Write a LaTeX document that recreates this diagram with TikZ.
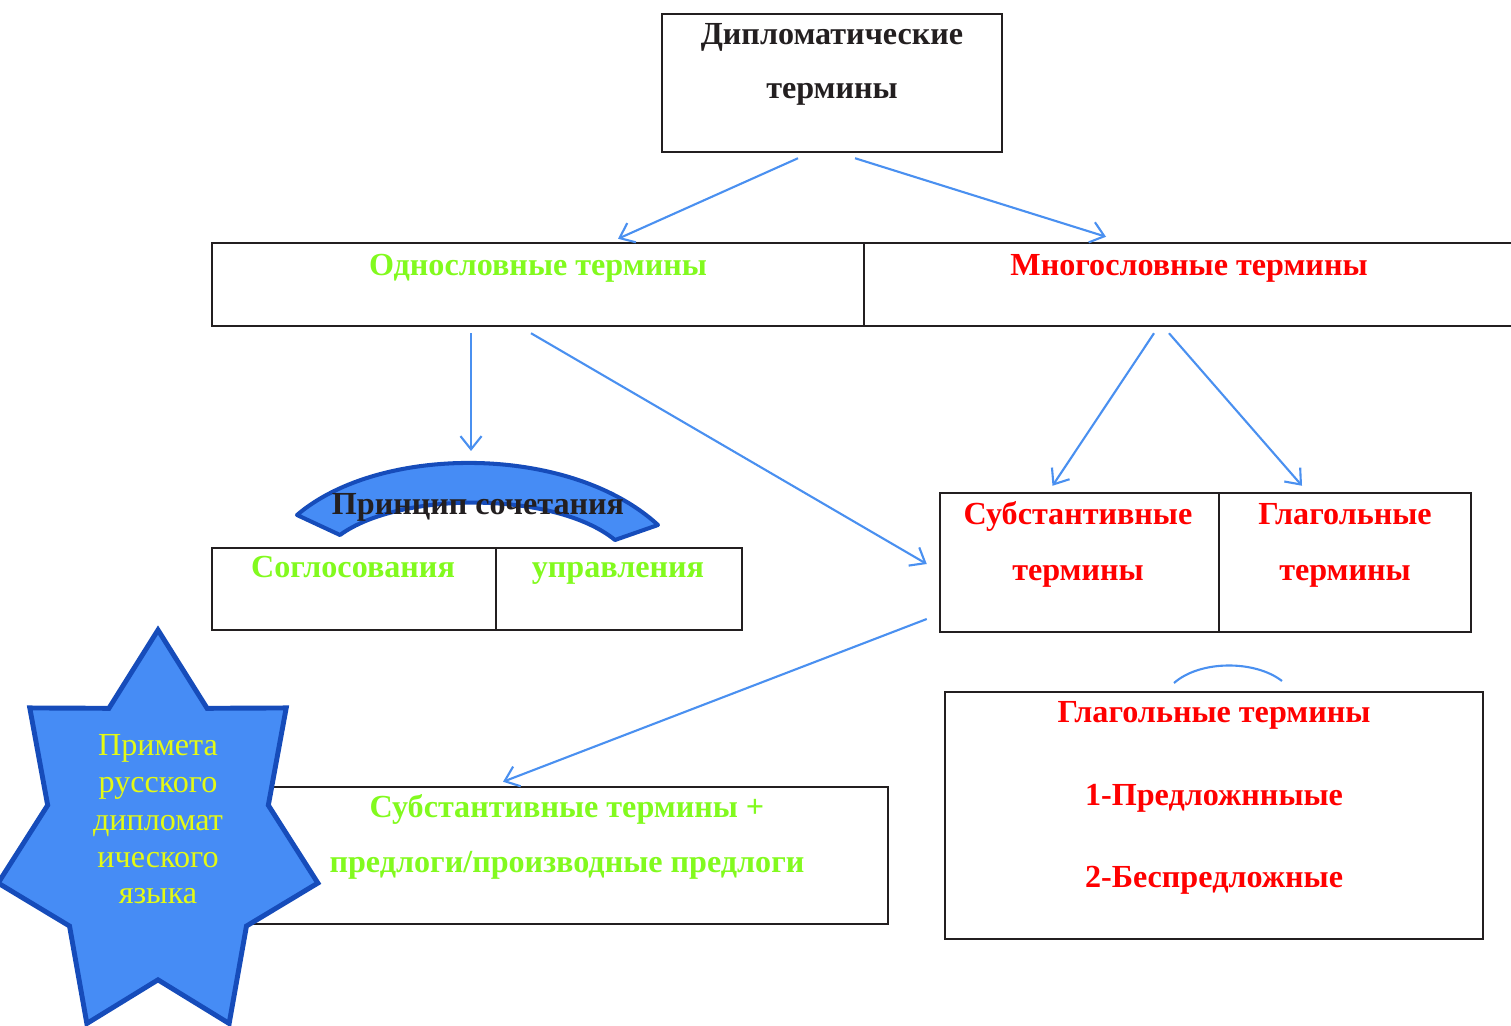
\documentclass[tikz,border=0pt]{standalone}
\usepackage{fontspec}
\setmainfont{Liberation Serif}
\usetikzlibrary{arrows.meta,calc,fit}
\definecolor{arrowblue}{RGB}{74,144,240}
\definecolor{starblue}{RGB}{70,140,245}
\definecolor{edgeblue}{RGB}{22,76,186}
\definecolor{termgreen}{RGB}{130,250,30}
\definecolor{termred}{RGB}{255,0,0}
\definecolor{staryellow}{RGB}{228,250,20}
\definecolor{boxline}{RGB}{35,31,32}
\tikzset{
	box/.style={draw=boxline, line width=1.4pt, inner sep=0pt},
	lbl/.style={anchor=base, inner sep=0pt, text=boxline, font=\fontsize{18.3}{22}\selectfont\bfseries},
	startxt/.style={anchor=base, inner sep=0pt, text=staryellow, font=\fontsize{18.3}{22}\selectfont},
	arr/.style={draw=arrowblue, line width=1.2pt, -{Straight Barb[length=7.5pt,width=12pt]}},
}
\begin{document}
\begin{tikzpicture}[x=0.02cm, y=-0.02cm]
		\clip (0,0) rectangle (1511,1026);
		% boxes
		\node[box, fit={(662,14) (1002,152)}] (top) {};
		\node[box, fit={(212,243) (864,326)}] (odno) {};
		\node[box, fit={(864,243) (1522,326)}] (mnogo) {};
		\node[box, fit={(212,548) (496,630)}] (sogl) {};
		\node[box, fit={(496,548) (742,630)}] (uprav) {};
		\node[box, fit={(940,493) (1219,632)}] (subst) {};
		\node[box, fit={(1219,493) (1471,632)}] (glag) {};
		\node[box, fit={(200,787) (888,924)}] (subpred) {};
		\node[box, fit={(945,692) (1483,939)}] (glagbox) {};
		
		\node[lbl] (top1) at (832,45) {Дипломатические};
		\node[lbl] (top2) at (832,99) {термины};
		\node[lbl, text=termgreen] (odnotxt) at (538,276) {Однословные термины};
		\node[lbl, text=termred] (mnogotxt) at (1189,276) {Многословные термины};
		\node[lbl, text=termgreen] (sogltxt) at (353,578) {Соглосования};
		\node[lbl, text=termgreen] (upravtxt) at (618,578) {управления};
		\foreach \n/\x/\t in {subst1/1078/Субстантивные, glag1/1345/Глагольные}{
			\node[lbl, text=termred] (\n) at (\x,525) {\t};
		}
		\node[lbl, text=termred] (subst2) at (1078,581) {термины};
		\node[lbl, text=termred] (glag2) at (1345,581) {термины};
		\node[lbl, text=termred] (glagb1) at (1214,723) {Глагольные термины};
		\node[lbl, text=termred] (glagb2) at (1214,805) {1-Предложнныые};
		\node[lbl, text=termred] (glagb3) at (1214,887) {2-Беспредложные};
		\node[lbl, text=termgreen] (subpred1) at (567,817) {Субстантивные термины +};
		\node[lbl, text=termgreen] (subpred2) at (567,872) {предлоги/производные предлоги};
		
		% arrows
		\coordinate (band) at (470,463);
		\draw[arr] ($(top.south)+(-34,5)$) -- ($(odno.north)+(80,-3)$);
		\draw[arr] ($(top.south)+(23,5)$) -- ($(mnogo.north)+(-87,-5)$);
		\draw[arr] ($(odno.south)+(-67,6)$) -- ($(band)+(1,-12)$);
		\draw[arr] ($(odno.south)+(-7,6)$) -- ($(subst.west)+(-12,1.5)$);
		\draw[arr] ($(mnogo.south)+(-39,6)$) -- ($(subst.north)+(-27,-6)$);
		\draw[arr] ($(mnogo.south)+(-24,6)$) -- ($(glag.north)+(-43,-6)$);
		\draw[arr] ($(subst.west)+(-12,56.5)$) -- ($(subpred.north)+(-41,-4)$);
		\draw[arrowblue, line width=1.2pt] (1174,683) .. controls (1200,660) and (1255,660) .. (1282,681);
		
		% arc band
		\draw[fill=starblue, draw=edgeblue, line width=2.3pt, line join=round]
			(297,515) .. controls (380,444) and (570,444) .. (658,525) -- (615,540)
			.. controls (555,491) and (400,491) .. (340,535) -- cycle;
		\node[lbl] (printxt) at (478,515) {Принцип сочетания};
		
		% star
		\draw[fill=starblue, draw=edgeblue, line width=2.8pt, line join=miter]
			(158,630) \foreach \k/\r in {1/0.69, 2/1, 3/0.69, 4/1, 5/0.69, 6/1, 7/0.69, 8/1, 9/0.69, 10/1, 11/0.69, 12/1, 13/0.69}{
				-- ({158+\r*164*cos(90+\k*360/14)},{837-\r*207*sin(90+\k*360/14)})
			} -- cycle;
		\foreach \n/\y/\t in {s1/755/Примета, s2/792/русского, s3/830/дипломат, s4/867/ического, s5/903/языка}{
			\node[startxt] (\n) at (158,\y) {\t};
		}
\end{tikzpicture}
\end{document}
